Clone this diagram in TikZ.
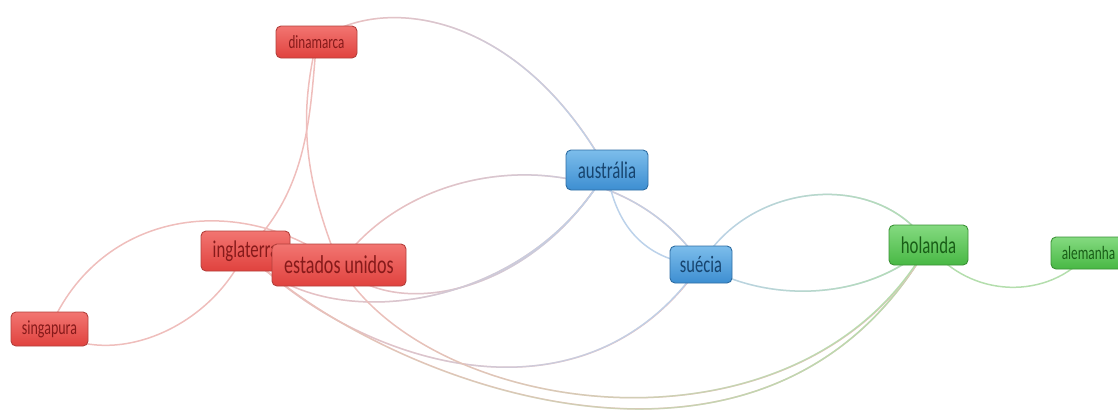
\documentclass[tikz,border=0pt]{standalone}
\usepackage{fontspec}
\newfontfamily\lblfont[FakeStretch=0.7]{Carlito}
\usetikzlibrary{backgrounds,fadings}
\tikzfading[name=fadeR, left color=transparent!100, right color=transparent!0]
\definecolor{redT}{HTML}{F27571}
\definecolor{redD}{HTML}{E0423E}
\definecolor{redB}{HTML}{B3403C}
\definecolor{redTx}{HTML}{861A1A}
\definecolor{bluT}{HTML}{7CBDEB}
\definecolor{bluD}{HTML}{3D8ED1}
\definecolor{bluB}{HTML}{2E6DA3}
\definecolor{bluTx}{HTML}{17446E}
\definecolor{grnT}{HTML}{84DA80}
\definecolor{grnD}{HTML}{48B844}
\definecolor{grnB}{HTML}{3A9135}
\definecolor{grnTx}{HTML}{195E17}
\definecolor{redE}{HTML}{EFBEBC}
\definecolor{bluE}{HTML}{BCD2EA}
\definecolor{grnE}{HTML}{B4DEAD}
\newcommand\gedge[3]{\draw[edge,draw=#1] #3; \draw[edge,draw=#2,path fading=fadeR] #3;}
\begin{document}
\begin{tikzpicture}[x=1pt,y=-1pt,
  box/.style={rounded corners=5pt, draw, line width=0.9pt, inner sep=0pt, align=center},
  redbox/.style={box, draw=redB, top color=redT, bottom color=redD, text=redTx},
  blubox/.style={box, draw=bluB, top color=bluT, bottom color=bluD, text=bluTx},
  grnbox/.style={box, draw=grnB, top color=grnT, bottom color=grnD, text=grnTx},
  fs/.style={font=\lblfont\fontsize{#1}{#1}\selectfont},
  edge/.style={line width=1.5pt, line cap=round}
]
\useasboundingbox (0,0) rectangle (1118,410);

\node[redbox, fs=18.7, minimum width=81, minimum height=32] (din) at (316.5,42) {dinamarca};
\node[blubox, fs=24, minimum width=82, minimum height=40] (aus) at (607,170) {austrália};
\node[redbox, fs=24, minimum width=89, minimum height=40] (ing) at (245.5,251) {inglaterra};
\node[redbox, fs=25.8, minimum width=134, minimum height=42] (eua) at (339,265) {estados unidos};
\node[blubox, fs=23.6, minimum width=62, minimum height=37] (sue) at (701,264.5) {suécia};
\node[grnbox, fs=24, minimum width=79, minimum height=40] (hol) at (928.5,245) {holanda};
\node[grnbox, fs=19, minimum width=75, minimum height=32] (ale) at (1088.5,253) {alemanha};
\node[redbox, fs=20, minimum width=77, minimum height=34] (sin) at (49.5,329) {singapura};

\begin{pgfonlayer}{background}
\gedge{redE}{bluE}{(din.center) .. controls (375,-5) and (515,5) .. (aus.center)}
\draw[edge,draw=redE] (din.center) .. controls (310,110) and (310,190) .. (ing.center);
\draw[edge,draw=redE] (din.center) .. controls (298,120) and (305,180) .. (eua.center);
\draw[edge,draw=redE] (sin.center) .. controls (100,210) and (240,190) .. (eua.center);
\draw[edge,draw=redE] (sin.center) .. controls (110,370) and (210,330) .. (ing.center);
\gedge{redE}{bluE}{(eua.center) .. controls (420,150) and (620,140) .. (sue.center)}
\gedge{redE}{bluE}{(eua.center) .. controls (390,320) and (530,300) .. (aus.center)}
\gedge{redE}{bluE}{(ing.center) .. controls (310,335) and (520,320) .. (aus.center)}
\gedge{redE}{bluE}{(ing.center) .. controls (350,360) and (580,440) .. (sue.center)}
\gedge{redE}{grnE}{(ing.center) .. controls (360,370) and (760,540) .. (hol.center)}
\gedge{redE}{grnE}{(eua.center) .. controls (430,420) and (800,470) .. (hol.center)}
\draw[edge,draw=bluE] (aus.center) .. controls (615,230) and (650,262) .. (sue.center);
\gedge{bluE}{grnE}{(sue.center) .. controls (750,180) and (880,170) .. (hol.center)}
\gedge{bluE}{grnE}{(sue.center) .. controls (770,305) and (870,300) .. (hol.center)}
\draw[edge,draw=grnE] (hol.center) .. controls (970,300) and (1050,300) .. (ale.center);
\end{pgfonlayer}
\end{tikzpicture}
\end{document}
